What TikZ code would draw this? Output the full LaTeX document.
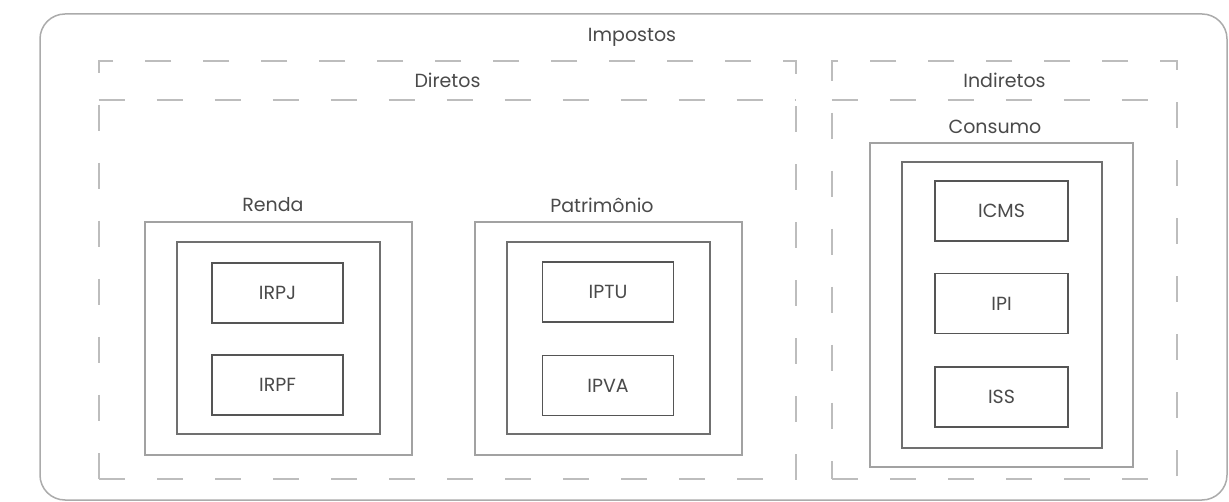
\documentclass[tikz,border=0pt]{standalone}
\usepackage{fontspec}
\setmainfont{Poppins}
\usetikzlibrary{positioning}

\definecolor{labelgray}{HTML}{4A4A4A}
\definecolor{framegray}{HTML}{ABABAB}
\definecolor{dashgray}{HTML}{BDBDBD}
\definecolor{groupgray}{HTML}{A2A2A2}
\definecolor{midgray}{HTML}{707070}
\definecolor{taxgray}{HTML}{555555}

\tikzset{
  lbl/.style={font=\fontsize{19}{22}\selectfont, text=labelgray, inner sep=0pt},
  outerbox/.style={draw=framegray, line width=1.5pt, rounded corners=25pt, inner sep=0pt},
  dashbox/.style={draw=dashgray, line width=1.8pt, dash pattern=on 26pt off 32pt, inner sep=0pt},
  groupbox/.style={draw=groupgray, line width=1.6pt, inner sep=0pt},
  midbox/.style={draw=midgray, line width=1.6pt, inner sep=0pt},
  taxbox/.style={draw=taxgray, line width=1.6pt, inner sep=0pt, lbl, minimum width=131, minimum height=60},
}

\begin{document}
\begin{tikzpicture}[x=1pt, y=-1pt]
\useasboundingbox[fill=white] (0,0) rectangle (1229,502);

% outer frame
\node[outerbox, minimum width=1187, minimum height=486] (impostos) at (633.5,257) {};
\node[lbl] (impostoslbl) at (632,37) {Impostos};

% direct taxes
\node[dashbox, minimum width=697, minimum height=418] (diretos) at (447.5,270) {};
\node[lbl, minimum width=697, minimum height=39] (dirhead) at (447.5,80.5) {Diretos};
\draw[dashbox] (dirhead.south west) -- (dirhead.south east);

\node[groupbox, minimum width=267, minimum height=233] (renda) at (278.5,338.5) {};
\node[midbox, minimum width=203, minimum height=192] (rendamid) at (278.5,338) {};
\node[lbl] (rendalbl) at (273,205) {Renda};
\node[taxbox] (irpj) at (277.5,293) {IRPJ};
\node[taxbox] (irpf) at (277.5,385) {IRPF};

\node[groupbox, minimum width=267, minimum height=233] (patrim) at (608.5,338.5) {};
\node[midbox, minimum width=203, minimum height=192] (patrimmid) at (608.5,338) {};
\node[lbl] (patrimlbl) at (602,205) {Patrimônio};
\node[taxbox] (iptu) at (608,292) {IPTU};
\node[taxbox] (ipva) at (608,385.5) {IPVA};

% indirect taxes
\node[dashbox, minimum width=345, minimum height=418] (indiretos) at (1004.5,270) {};
\node[lbl, minimum width=345, minimum height=39] (indhead) at (1004.5,80.5) {Indiretos};
\draw[dashbox] (indhead.south west) -- (indhead.south east);

\node[groupbox, minimum width=263, minimum height=324] (consumo) at (1001.5,305) {};
\node[midbox, minimum width=200, minimum height=286] (consumomid) at (1002,305) {};
\node[lbl] (consumolbl) at (995,127) {Consumo};
\node[taxbox, minimum width=133] (icms) at (1001.5,211) {ICMS};
\node[taxbox, minimum width=133] (ipi) at (1001.5,303.5) {IPI};
\node[taxbox, minimum width=133] (iss) at (1001.5,397) {ISS};
\end{tikzpicture}
\end{document}
